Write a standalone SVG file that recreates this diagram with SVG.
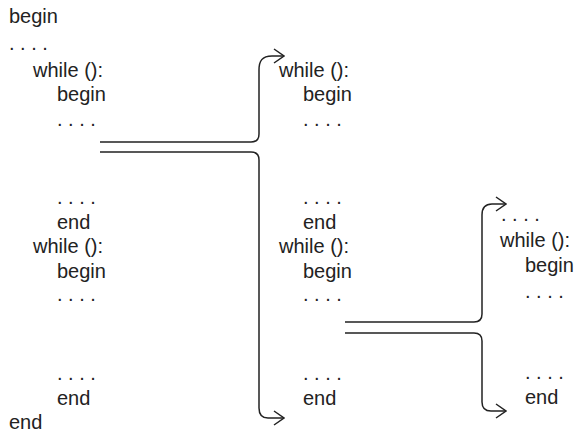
<svg xmlns="http://www.w3.org/2000/svg" width="582" height="436" viewBox="0 0 582 436">
  <style>
    text { font-family: "Liberation Sans", Arial, sans-serif; font-size: 20px; fill: #222; }
    .link { fill: none; stroke: #222; stroke-width: 1.5; }
  </style>
  <defs>
    <marker id="chevron" viewBox="0 0 12 16" refX="11" refY="8" markerWidth="12" markerHeight="16" markerUnits="userSpaceOnUse" orient="auto">
      <path d="M1,1 L11,8 L1,15" fill="none" stroke="#222" stroke-width="1.5"/>
    </marker>
  </defs>
  <rect width="582" height="436" fill="#fff"/>

  <!-- outer program block -->
  <g id="block-outer">
    <text x="9" y="23">begin</text>
    <text x="9" y="50">. . . .</text>
    <text x="33" y="77">while ():</text>
    <text x="57" y="101">begin</text>
    <text x="57" y="126">. . . .</text>
    <text x="57" y="204">. . . .</text>
    <text x="57" y="229">end</text>
    <text x="33" y="253">while ():</text>
    <text x="57" y="278">begin</text>
    <text x="57" y="301">. . . .</text>
    <text x="57" y="380">. . . .</text>
    <text x="57" y="405">end</text>
    <text x="9" y="429">end</text>
  </g>

  <!-- extracted loop block -->
  <g id="block-loop1">
    <text x="279" y="77">while ():</text>
    <text x="303" y="101">begin</text>
    <text x="303" y="126">. . . .</text>
    <text x="303" y="204">. . . .</text>
    <text x="303" y="229">end</text>
    <text x="279" y="253">while ():</text>
    <text x="303" y="278">begin</text>
    <text x="303" y="301">. . . .</text>
    <text x="303" y="380">. . . .</text>
    <text x="303" y="405">end</text>
  </g>

  <!-- nested loop block -->
  <g id="block-loop2">
    <text x="501" y="221">. . . .</text>
    <text x="500" y="247">while ():</text>
    <text x="525" y="272">begin</text>
    <text x="525" y="298">. . . .</text>
    <text x="525" y="379">. . . .</text>
    <text x="525" y="404">end</text>
  </g>

  <!-- split connectors -->
  <g id="connectors">
    <path class="link" d="M100,142 H251 Q259,142 259,134 V70 C259,61 262,56 272,56 H284" marker-end="url(#chevron)"/>
    <path class="link" d="M100,152 H251 Q259,152 259,160 V408 Q259,418 268,418 H284" marker-end="url(#chevron)"/>
    <path class="link" d="M345,322 H474 Q482,322 482,314 V215 C482,208 485,204 492,204 H506" marker-end="url(#chevron)"/>
    <path class="link" d="M345,333 H474 Q482,333 482,341 V402 Q482,411 491,411 H506" marker-end="url(#chevron)"/>
  </g>
</svg>
